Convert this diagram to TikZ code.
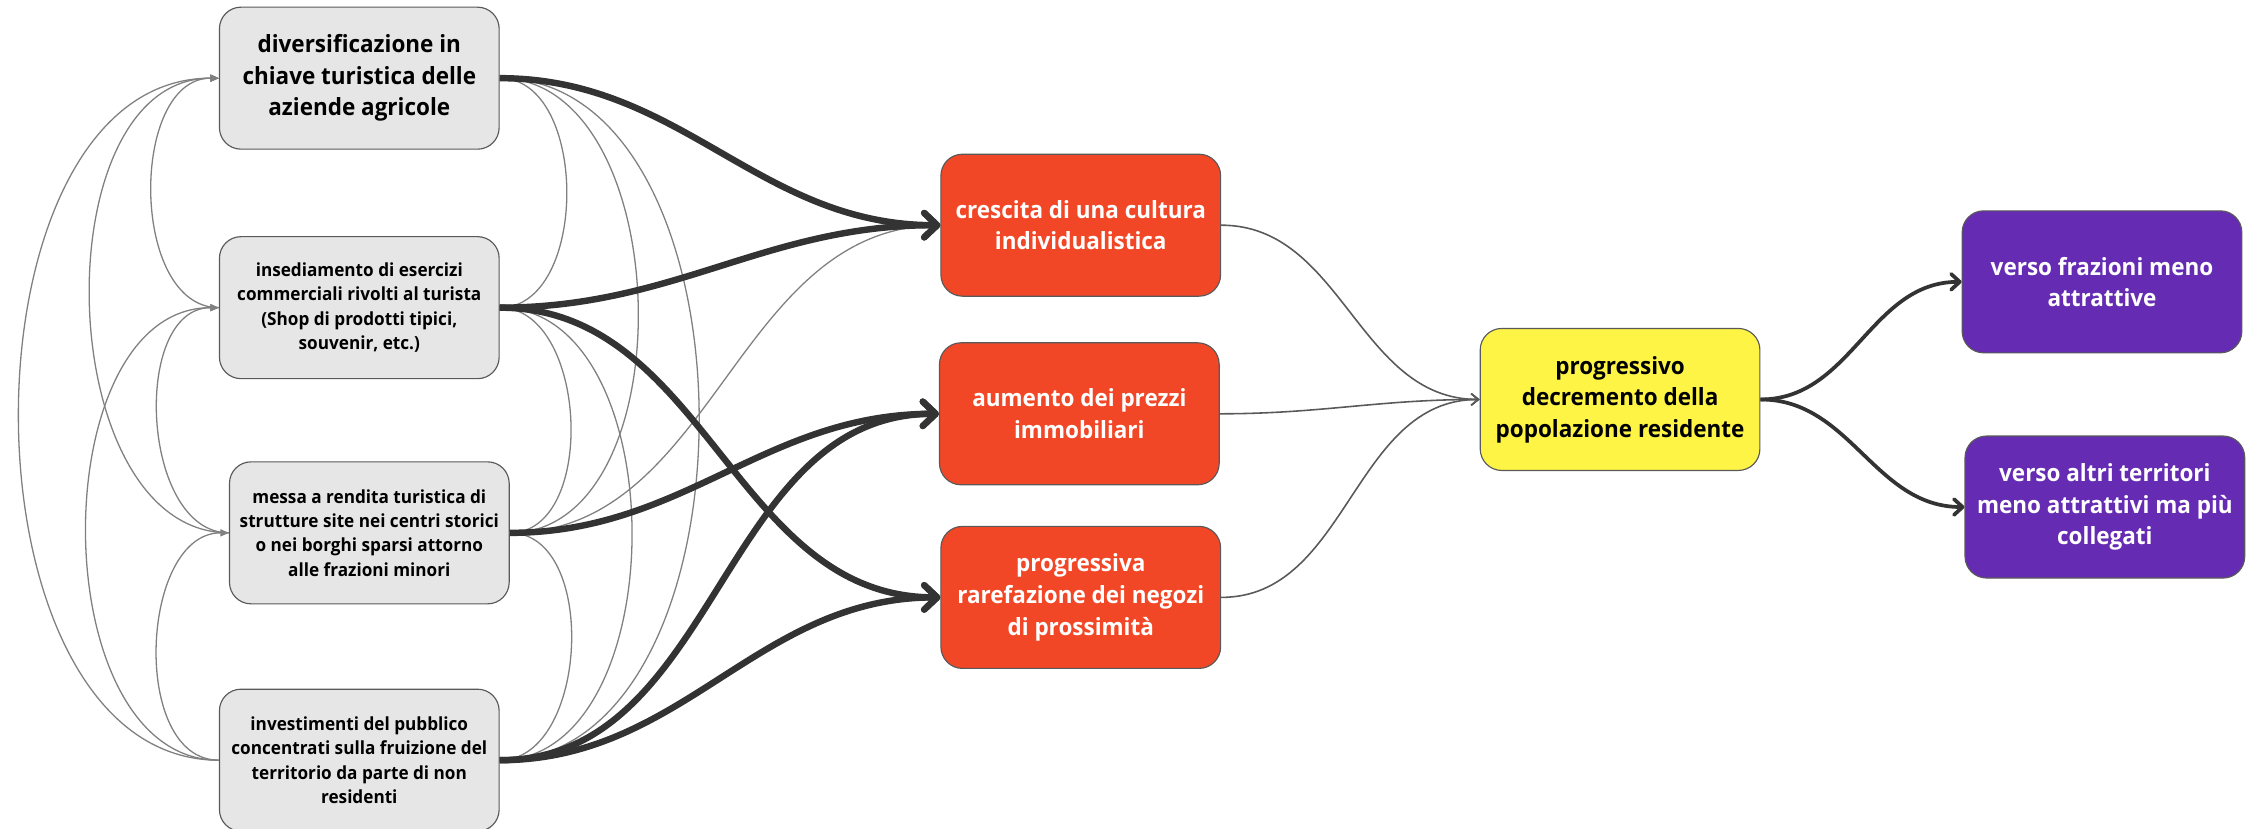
\documentclass[tikz,border=0pt]{standalone}
\usepackage{fontspec}
\setmainfont{Open Sans}[BoldFeatures={FakeStretch=0.95}]
\usetikzlibrary{arrows.meta}

\definecolor{grigio}{HTML}{E6E6E6}
\definecolor{rosso}{HTML}{F24726}
\definecolor{giallo}{HTML}{FEF445}
\definecolor{viola}{HTML}{652CB3}
\definecolor{linea}{HTML}{333333}

\tikzset{
  box/.style={draw=black!65, line width=0.8pt, rounded corners=15pt,
    minimum width=195pt, minimum height=99pt, inner sep=0pt, align=center,
    font=\fontsize{16.5}{22}\selectfont\bfseries},
  causa/.style={box, fill=grigio},
  causina/.style={causa, font=\fontsize{12.6}{17}\selectfont\bfseries},
  effetto/.style={box, fill=rosso, text=white},
  esito/.style={box, fill=giallo},
  destino/.style={box, fill=viola, text=white},
  forte/.style={draw=linea, line width=4.5pt, -{Straight Barb[length=9pt,width=17pt,round]}},
  sottile/.style={draw=black!50, line width=0.9pt},
  verso/.style={draw=black!65, line width=1.1pt, -{Straight Barb[length=5pt,width=8pt]}},
  uscita/.style={draw=linea, line width=2.6pt, -{Straight Barb[length=6pt,width=11pt,round]}}
}

\begin{document}
\begin{tikzpicture}[x=1pt,y=-1pt]
  \useasboundingbox (0,0) rectangle (1568,577.3);

  % cause
  \node[causa]   (c1) at (250.5,54.5) {diversificazione in\\chiave turistica delle\\aziende agricole};
  \node[causina] (c2) at (250.5,214.5) {insediamento di esercizi\\commerciali rivolti al turista\\(Shop di prodotti tipici,\\souvenir, etc.)};
  \node[causina] (c3) at (257.5,371.5) {messa a rendita turistica di\\strutture site nei centri storici\\o nei borghi sparsi attorno\\alle frazioni minori};
  \node[causina] (c4) at (250.5,530) {investimenti del pubblico\\concentrati sulla fruizione del\\territorio da parte di non\\residenti};

  % effetti
  \node[effetto] (e1) at (753.5,157) {crescita di una cultura\\individualistica};
  \node[effetto] (e2) at (752.5,288.5) {aumento dei prezzi\\immobiliari};
  \node[effetto] (e3) at (753.5,416.5) {progressiva\\rarefazione dei negozi\\di prossimità};

  \node[esito] (p) at (1129.5,278.5) {progressivo\\decremento della\\popolazione residente};

  \node[destino] (v1) at (1465.5,196.5) {verso frazioni meno\\attrattive};
  \node[destino] (v2) at (1467.5,353.5) {verso altri territori\\meno attrattivi ma più\\collegati};

  % legami tra le cause
  \foreach \a/\b in {c1/c2,c1/c3,c1/c4,c2/c3,c2/c4,c3/c4} {
    \draw[sottile] (\a.east) to[out=0,in=0] (\b.east);
    \draw[sottile,-{Triangle[length=6pt,width=5pt]}] (\b.west) to[out=180,in=180] (\a.west);
  }
  \draw[sottile] (c3.east) to[out=0,in=180] (e1.west);

  \draw[forte] (c1.east) to[out=0,in=180] (e1.west);
  \draw[forte] (c2.east) to[out=0,in=180] (e1.west);
  \draw[forte] (c2.east) to[out=0,in=180] (e3.west);
  \draw[forte] (c3.east) to[out=0,in=180] (e2.west);
  \draw[forte] (c4.east) to[out=0,in=180] (e2.west);
  \draw[forte] (c4.east) to[out=0,in=180] (e3.west);

  \draw[verso] (e1.east) to[out=0,in=180] (p.west);
  \draw[verso] (e2.east) to[out=0,in=180] (p.west);
  \draw[verso] (e3.east) to[out=0,in=180] (p.west);

  \draw[uscita] (p.east) to[out=0,in=180] (v1.west);
  \draw[uscita] (p.east) to[out=0,in=180] (v2.west);
\end{tikzpicture}
\end{document}
